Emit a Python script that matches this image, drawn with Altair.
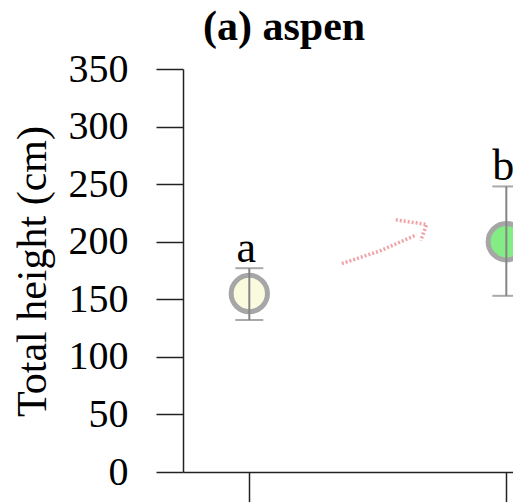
import altair as alt
import pandas as pd

# Point data
groups = ["a", "b"]
xpos = [1, 2]
means = [155, 200]
lower = [132, 153]
upper = [177, 248]
fills = ["#fafadf", "#84ec84"]

# hand-drawn red arrow (data coordinates)
arrow_x = [1.360, 1.508, 1.651, 1.570, 1.690, 1.667]
arrow_y = [181, 192, 206, 219, 215, 201]
arrow_seg = [0, 0, 0, 1, 1, 1]
arrow_ord = [0, 1, 2, 3, 4, 5]

df = pd.DataFrame({"group": groups, "x": xpos, "mean": means,
                   "lower": lower, "upper": upper, "fill": fills})
arrow = pd.DataFrame({"x": arrow_x, "y": arrow_y, "seg": arrow_seg, "o": arrow_ord})

FONT = "Liberation Serif"
xs = alt.Scale(domain=[0.742, 2.026], nice=False, zero=False)
ys = alt.Scale(domain=[0, 350], nice=False, zero=True)

xaxis = alt.Axis(values=[1, 2], labels=False, title=None, tickSize=30,
                 grid=False, domainColor="#222", tickColor="#222",
                 domainWidth=1.5, tickWidth=1.5)
yaxis = alt.Axis(values=list(range(0, 351, 50)), title="Total height (cm)",
                 tickSize=27, labelPadding=28, labelFont=FONT, labelFontSize=40,
                 labelColor="black", titleFont=FONT, titleFontSize=42,
                 titleFontWeight="normal", titleColor="black", titleX=-151,
                 titleBaseline="middle", titleY=202, grid=False,
                 domainColor="#222", tickColor="#222", domainWidth=1.5, tickWidth=1.5)

base = alt.Chart(df)

pts = base.mark_circle(size=1320, stroke="#a6a6a6", strokeWidth=5, opacity=1).encode(
    x=alt.X("x:Q", scale=xs, axis=xaxis),
    y=alt.Y("mean:Q", scale=ys, axis=yaxis),
    fill=alt.Fill("fill:N", scale=None),
)

rule = base.mark_rule(color="#858585", strokeWidth=2).encode(
    x="x:Q", y="lower:Q", y2="upper:Q")
cap_top = base.mark_tick(orient="horizontal", size=28, thickness=2, color="#858585").encode(
    x="x:Q", y="upper:Q")
cap_bot = base.mark_tick(orient="horizontal", size=28, thickness=2, color="#858585").encode(
    x="x:Q", y="lower:Q")

labels = base.mark_text(font=FONT, fontSize=44, baseline="alphabetic", dy=-6, dx=-3,
                        color="black").encode(
    x="x:Q", y="upper:Q", text="group:N")

arr = alt.Chart(arrow).mark_line(color="#e0303f", opacity=0.45, strokeWidth=3.5,
                                 strokeDash=[2, 2]).encode(
    x="x:Q", y="y:Q", detail="seg:N", order="o:Q")

chart = alt.layer(arr, pts, rule, cap_top, cap_bot, labels).properties(
    width=330, height=403,
    title=alt.TitleParams("(a) aspen", font=FONT, fontSize=42, fontWeight="bold",
                          anchor="start", frame="group", dx=20, dy=4, color="black"),
    autosize=alt.AutoSizeParams(type="none"),
    padding={"left": 183, "top": 69, "right": 0, "bottom": 30},
).configure_view(stroke=None)

chart.save("out.html", embed_options={"renderer": "svg", "actions": False})
